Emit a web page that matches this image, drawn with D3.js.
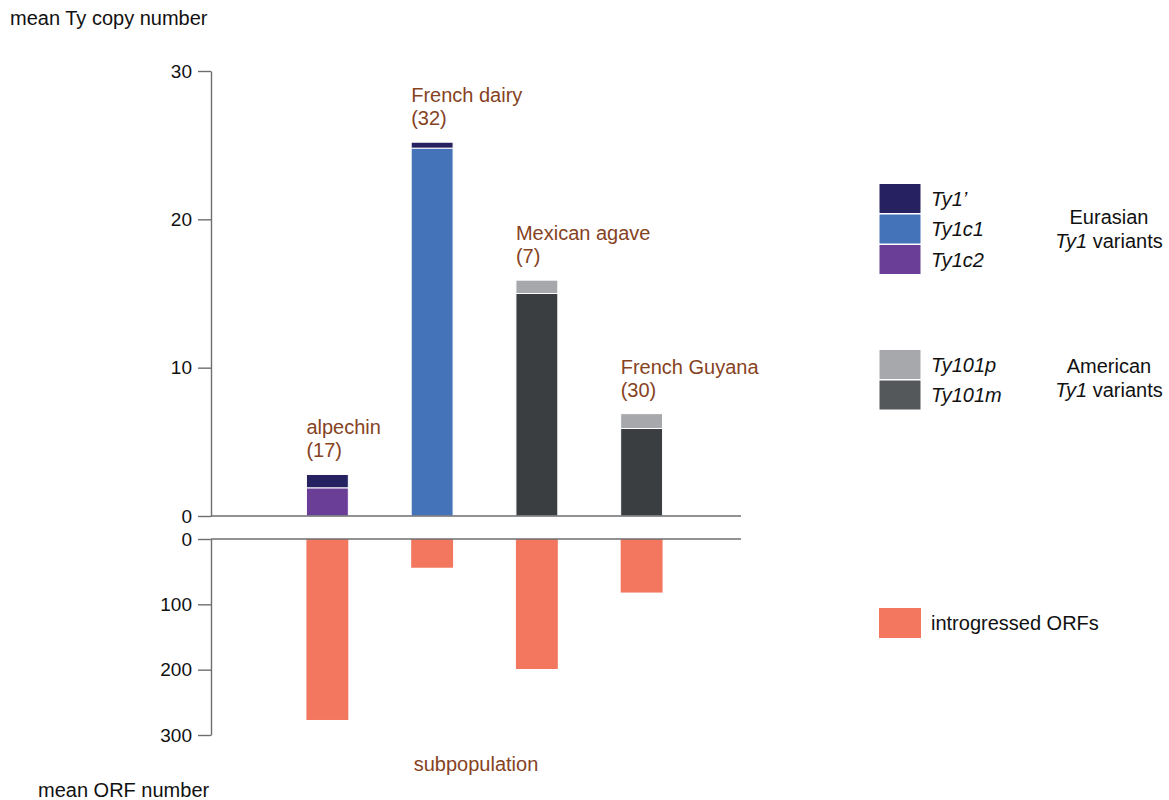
<!DOCTYPE html>
<html>
<head>
<meta charset="utf-8">
<script src="https://cdn.jsdelivr.net/npm/d3@7"></script>
<style>
  html, body { margin: 0; padding: 0; background: #fff; }
  svg { display: block; font-family: "Liberation Sans", Arial, sans-serif; }
</style>
</head>
<body>
<svg id="chart" width="1169" height="800"></svg>
<script>
// Subpopulations (strain counts in parentheses)
const groups = ["alpechin", "French dairy", "Mexican agave", "French Guyana"];
const groupCounts = [17, 32, 7, 30];

// Mean Ty copy number per subpopulation, stacked by variant (bottom to top)
const ty1c2   = [1.9, 0,    0,    0];
const ty1c1   = [0,   24.8, 0,    0];
const ty1p    = [0.9, 0.4,  0,    0];
const ty101m  = [0,   0,    15.0, 5.9];
const ty101p  = [0,   0,    0.9,  1.0];

// Mean number of introgressed ORFs
const orfs = [277, 44, 199, 82];

const copyTicks = [0, 10, 20, 30];
const orfTicks = [0, 100, 200, 300];

const variantKeys = ["Ty1c2", "Ty1c1", "Ty1p", "Ty101m", "Ty101p"];
const variantValues = { Ty1c2: ty1c2, Ty1c1: ty1c1, Ty1p: ty1p, Ty101m: ty101m, Ty101p: ty101p };
const variantColor = {
  Ty1p: "#262262", Ty1c1: "#4573b9", Ty1c2: "#6a3d97",
  Ty101p: "#a7a8ab", Ty101m: "#3b3e41"
};
const orfColor = "#f3775f";
const labelColor = "#86431f";
const axisColor = "#6d6e71";

const svg = d3.select("#chart");
const axisX0 = 211, axisX1 = 741;

const x = d3.scaleBand().domain(groups).range([275, 694]).paddingInner(0.6).paddingOuter(0.3);
const yTop = d3.scaleLinear().domain([0, 30]).range([516, 71]);
const yBot = d3.scaleLinear().domain([0, 300]).range([539, 735]);

// Stacked Ty copy-number bars
const table = groups.map((g, i) => {
  const row = { group: g };
  variantKeys.forEach(k => row[k] = variantValues[k][i]);
  return row;
});
const series = d3.stack().keys(variantKeys)(table);

svg.append("g").selectAll("g").data(series).join("g")
  .attr("fill", d => variantColor[d.key])
  .selectAll("rect").data(d => d.filter(s => s[1] - s[0] > 0))
  .join("rect")
  .attr("x", d => x(d.data.group))
  .attr("width", x.bandwidth())
  .attr("y", d => yTop(d[1]))
  .attr("height", d => yTop(d[0]) - yTop(d[1]))
  .attr("stroke", "#fff")
  .attr("stroke-width", 1);

// Introgressed ORF bars (downward)
svg.append("g").selectAll("rect").data(groups).join("rect")
  .attr("x", d => x(d))
  .attr("width", x.bandwidth())
  .attr("y", yBot(0))
  .attr("height", (d, i) => yBot(orfs[i]) - yBot(0))
  .attr("fill", orfColor);

// Axes
const fontSize = 20;
const tickFontSize = 19;
function styleAxis(g) {
  g.selectAll("path.domain").attr("stroke", axisColor).attr("stroke-width", 1.4);
  g.selectAll(".tick line").attr("stroke", axisColor).attr("stroke-width", 1.4);
  g.selectAll(".tick text").attr("fill", "#111").attr("font-size", tickFontSize)
    .attr("font-family", "'Liberation Sans', Arial, sans-serif");
}
svg.append("g").attr("transform", `translate(${axisX0},0)`)
  .call(d3.axisLeft(yTop).tickValues(copyTicks).tickSize(13).tickSizeOuter(0).tickPadding(6))
  .call(styleAxis);
svg.append("g").attr("transform", `translate(${axisX0},0)`)
  .call(d3.axisLeft(yBot).tickValues(orfTicks).tickSize(13).tickSizeOuter(0).tickPadding(6))
  .call(styleAxis);

// Baselines
[yTop(0), yBot(0)].forEach(yy => {
  svg.append("line").attr("x1", axisX0).attr("x2", axisX1).attr("y1", yy).attr("y2", yy)
    .attr("stroke", axisColor).attr("stroke-width", 1.6);
});

// Subpopulation labels above stacks
const totals = groups.map((g, i) => variantKeys.reduce((s, k) => s + variantValues[k][i], 0));
const lbl = svg.append("g").attr("fill", labelColor).attr("font-size", fontSize);
groups.forEach((g, i) => {
  const top = yTop(totals[i]);
  lbl.append("text").attr("x", x(g)).attr("y", top - 40).text(g);
  lbl.append("text").attr("x", x(g)).attr("y", top - 17).text(`(${groupCounts[i]})`);
});

// Axis titles
svg.append("text").attr("x", 10).attr("y", 25).attr("font-size", fontSize).attr("fill", "#111")
  .text("mean Ty copy number");
svg.append("text").attr("x", 38).attr("y", 797).attr("font-size", fontSize).attr("fill", "#111")
  .text("mean ORF number");
svg.append("text").attr("x", 476).attr("y", 771).attr("text-anchor", "middle")
  .attr("font-size", fontSize).attr("fill", labelColor).text("subpopulation");

// Legend
const legendEurasian = [["Ty1’", "Ty1p"], ["Ty1c1", "Ty1c1"], ["Ty1c2", "Ty1c2"]];
const legendAmerican = [["Ty101p", "Ty101p"], ["Ty101m", "Ty101m"]];
const legendSwatch = { Ty101m: "#55585b" };
const lg = svg.append("g");
function legendBlock(items, y0) {
  items.forEach(([label, key], i) => {
    const yy = y0 + i * 30.5;
    lg.append("rect").attr("x", 879).attr("y", yy).attr("width", 42).attr("height", 30)
      .attr("fill", legendSwatch[key] || variantColor[key]).attr("stroke", "#fff").attr("stroke-width", 1);
    lg.append("text").attr("x", 931).attr("y", yy + 15).attr("dy", "0.36em")
      .attr("font-size", fontSize).attr("font-style", "italic").attr("fill", "#111").text(label);
  });
}
legendBlock(legendEurasian, 183.5);
legendBlock(legendAmerican, 349.5);

function groupTitle(first, y) {
  lg.append("text").attr("x", 1109).attr("y", y).attr("text-anchor", "middle")
    .attr("font-size", fontSize).attr("fill", "#111").text(first);
  const t = lg.append("text").attr("x", 1109).attr("y", y + 24).attr("text-anchor", "middle")
    .attr("font-size", fontSize).attr("fill", "#111");
  t.append("tspan").attr("font-style", "italic").text("Ty1");
  t.append("tspan").text(" variants");
}
groupTitle("Eurasian", 224);
groupTitle("American", 373);

lg.append("rect").attr("x", 879).attr("y", 608).attr("width", 42).attr("height", 30).attr("fill", orfColor);
lg.append("text").attr("x", 931).attr("y", 623).attr("dy", "0.36em")
  .attr("font-size", fontSize).attr("fill", "#111").text("introgressed ORFs");
</script>
</body>
</html>
